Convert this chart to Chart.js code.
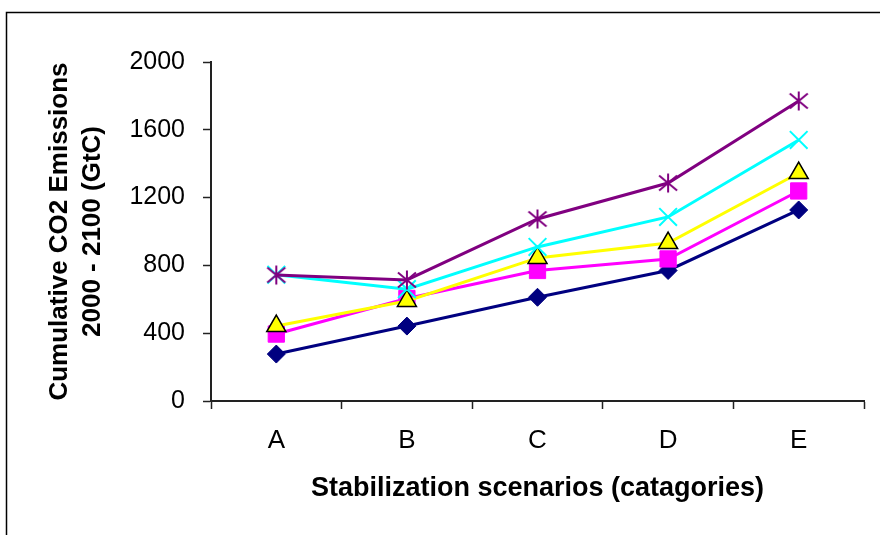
<!DOCTYPE html>
<html>
<head>
<meta charset="utf-8">
<script src="https://cdn.jsdelivr.net/npm/chart.js@4/dist/chart.umd.min.js"></script>
<style>
  html, body { margin: 0; padding: 0; background: #ffffff; }
  canvas { display: block; }
</style>
</head>
<body>
<canvas id="c" width="880" height="535"></canvas>
<script>
// Stabilization scenario categories
const categories = ['A', 'B', 'C', 'D', 'E'];

// Cumulative CO2 emissions 2000-2100 (GtC), one array per series
const seriesNavy    = [277, 442, 612, 770, 1127];
const seriesMagenta = [395, 605, 770, 838, 1239];
const seriesYellow  = [442, 590, 844, 932, 1345];
const seriesCyan    = [745, 660, 909, 1086, 1540];
const seriesPurple  = [743, 714, 1074, 1286, 1770];

// Value axis range and step
const yMin = 0, yMax = 2000, yStep = 400;

const FONT = "'Liberation Sans', Arial, sans-serif";

// Asterisk marker (vertical bar plus a diagonal cross)
function makeStar(color) {
  const cv = document.createElement('canvas');
  cv.width = 22; cv.height = 22;
  const g = cv.getContext('2d');
  g.strokeStyle = color;
  g.lineWidth = 2;
  g.lineCap = 'butt';
  g.beginPath();
  g.moveTo(11, 1.5); g.lineTo(11, 20.5);
  g.moveTo(2, 3.5); g.lineTo(20, 18.5);
  g.moveTo(20, 3.5); g.lineTo(2, 18.5);
  g.stroke();
  return cv;
}

// Outer frame line along the left and top edges
const framePlugin = {
  id: 'frame',
  beforeDraw(chart) {
    const ctx = chart.ctx;
    ctx.save();
    ctx.fillStyle = '#ffffff';
    ctx.fillRect(0, 0, chart.width, chart.height);
    ctx.strokeStyle = '#000000';
    ctx.lineWidth = 1.5;
    ctx.beginPath();
    ctx.moveTo(6.5, chart.height);
    ctx.lineTo(6.5, 12.5);
    ctx.lineTo(chart.width, 12.5);
    ctx.stroke();
    ctx.restore();
  }
};

new Chart(document.getElementById('c'), {
  type: 'line',
  data: {
    labels: categories,
    datasets: [
      {
        label: 'Series 1', data: seriesNavy, order: 5,
        borderColor: '#000080', backgroundColor: '#000080', borderWidth: 3,
        pointStyle: 'rectRot', pointRadius: 9, pointBorderWidth: 1,
        pointBorderColor: '#000080', pointBackgroundColor: '#000080'
      },
      {
        label: 'Series 2', data: seriesMagenta, order: 4,
        borderColor: '#ff00ff', backgroundColor: '#ff00ff', borderWidth: 3,
        pointStyle: 'rect', pointRadius: 11.5, pointBorderWidth: 1,
        pointBorderColor: '#ff00ff', pointBackgroundColor: '#ff00ff'
      },
      {
        label: 'Series 3', data: seriesYellow, order: 3,
        borderColor: '#ffff00', backgroundColor: '#ffff00', borderWidth: 3,
        pointStyle: 'triangle', pointRadius: 11, pointBorderWidth: 1.5,
        pointBorderColor: '#000000', pointBackgroundColor: '#ffff00'
      },
      {
        label: 'Series 4', data: seriesCyan, order: 2,
        borderColor: '#00ffff', backgroundColor: '#00ffff', borderWidth: 3,
        pointStyle: 'crossRot', pointRadius: 12.5, pointBorderWidth: 2,
        pointBorderColor: '#00ffff', pointBackgroundColor: '#00ffff'
      },
      {
        label: 'Series 5', data: seriesPurple, order: 1,
        borderColor: '#800080', backgroundColor: '#800080', borderWidth: 3,
        pointStyle: makeStar('#800080'), pointRadius: 11, pointBorderWidth: 0
      }
    ]
  },
  options: {
    responsive: false,
    devicePixelRatio: 1,
    animation: false,
    layout: { padding: { left: 0, right: 16, top: 62, bottom: 0 } },
    plugins: {
      legend: { display: false },
      tooltip: { enabled: false }
    },
    elements: { line: { tension: 0 } },
    scales: {
      x: {
        type: 'category',
        offset: true,
        afterFit(scale) { scale.height = 134; },
        grid: {
          offset: true, drawOnChartArea: false, drawTicks: true,
          tickLength: 8, tickWidth: 1.5, tickColor: '#222222'
        },
        border: { display: true, color: '#222222', width: 2 },
        ticks: {
          color: '#000000', padding: 16,
          font: { family: FONT, size: 26 }
        },
        title: {
          display: true,
          text: 'Stabilization scenarios (catagories)',
          color: '#000000',
          font: { family: FONT, size: 27, weight: 'bold' },
          padding: { top: 0, bottom: 30 }
        }
      },
      y: {
        min: yMin, max: yMax,
        afterFit(scale) { scale.width = 211; },
        grid: {
          drawOnChartArea: false, drawTicks: true,
          tickLength: 8, tickWidth: 1.5, tickColor: '#222222'
        },
        border: { display: true, color: '#222222', width: 2 },
        ticks: {
          stepSize: yStep, color: '#000000', padding: 18,
          font: { family: FONT, size: 25 },
          callback: (value) => String(value)
        },
        title: {
          display: true,
          text: ['Cumulative CO2 Emissions', '2000 - 2100 (GtC)'],
          color: '#000000',
          font: { family: FONT, size: 26, weight: 'bold', lineHeight: 1.27 },
          padding: { top: 43, bottom: 0 }
        }
      }
    }
  },
  plugins: [framePlugin]
});
</script>
</body>
</html>
